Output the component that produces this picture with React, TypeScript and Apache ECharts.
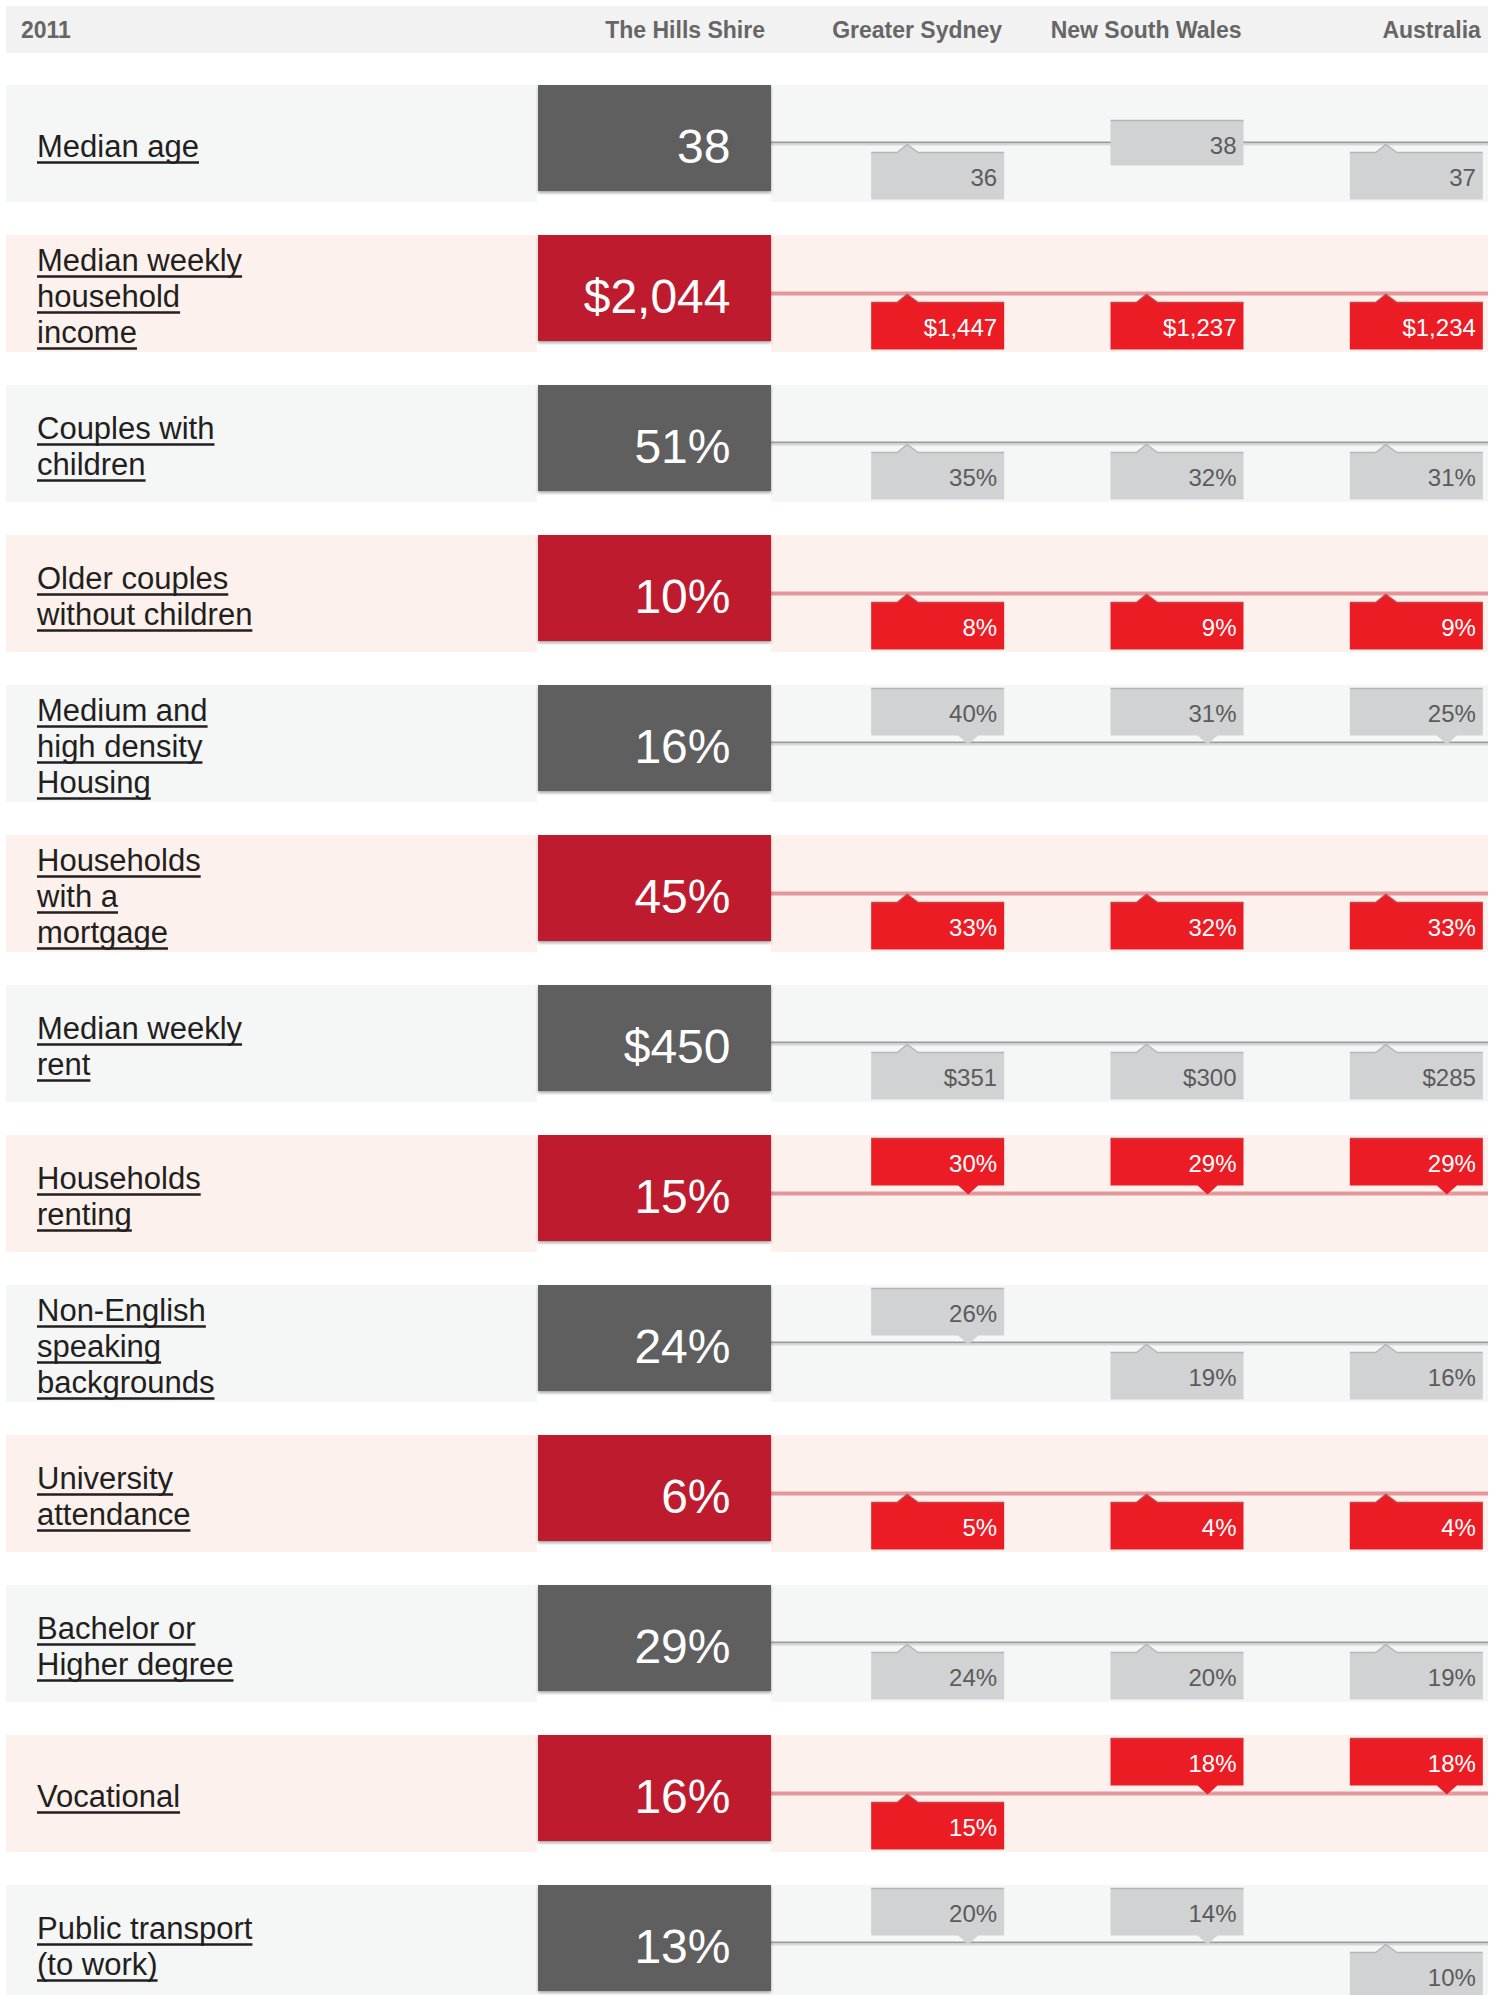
import { useEffect, useRef } from 'react';
import * as echarts from 'echarts';

// ---------------- data ----------------
const YEAR = '2011';
const AREAS = ['The Hills Shire', 'Greater Sydney', 'New South Wales', 'Australia'];
const INDICATORS = [
  'Median age',
  'Median weekly household income',
  'Couples with children',
  'Older couples without children',
  'Medium and high density Housing',
  'Households with a mortgage',
  'Median weekly rent',
  'Households renting',
  'Non-English speaking backgrounds',
  'University attendance',
  'Bachelor or Higher degree',
  'Vocational',
  'Public transport (to work)',
];
const LABEL_LINES = [
  ['Median age'],
  ['Median weekly', 'household', 'income'],
  ['Couples with', 'children'],
  ['Older couples', 'without children'],
  ['Medium and', 'high density', 'Housing'],
  ['Households', 'with a', 'mortgage'],
  ['Median weekly', 'rent'],
  ['Households', 'renting'],
  ['Non-English', 'speaking', 'backgrounds'],
  ['University', 'attendance'],
  ['Bachelor or', 'Higher degree'],
  ['Vocational'],
  ['Public transport', '(to work)'],
];
const UNITS = ['', '$', '%', '%', '%', '%', '$', '%', '%', '%', '%', '%', '%'];
const HILLS_SHIRE = [38, 2044, 51, 10, 16, 45, 450, 15, 24, 6, 29, 16, 13];
const GREATER_SYDNEY = [36, 1447, 35, 8, 40, 33, 351, 30, 26, 5, 24, 15, 20];
const NEW_SOUTH_WALES = [38, 1237, 32, 9, 31, 32, 300, 29, 19, 4, 20, 18, 14];
const AUSTRALIA = [37, 1234, 31, 9, 25, 33, 285, 29, 16, 4, 19, 18, 10];

// ---------------- layout / style ----------------
const FONT = '"Liberation Sans", Arial, Helvetica, sans-serif';
const PAGE_L = 6;
const PAGE_R = 1488;
const ROW_H = 117;
const ROW_PITCH = 150;
const BOX_H = 106;
const CALLOUT_W = 133;
const CALLOUT_H = 47;
const LABEL_X = 37;
const LABEL_SIZE = 31;
const LABEL_LH = 36;

function fmt(v: number, unit: string): string {
  if (unit === '$') return '$' + v.toLocaleString('en-US');
  if (unit === '%') return v + '%';
  return String(v);
}

let measureCtx: CanvasRenderingContext2D | null = null;
function textWidth(t: string, size: number): number {
  if (!measureCtx) measureCtx = document.createElement('canvas').getContext('2d');
  if (!measureCtx) return t.length * size * 0.5;
  measureCtx.font = `${size}px ${FONT}`;
  return measureCtx.measureText(t).width;
}

export default function App() {
  const ref = useRef<HTMLDivElement>(null);

  useEffect(() => {
    document.body.style.margin = '0';
    const chart = echarts.init(ref.current!, null, { renderer: 'svg' });

    const rowData = HILLS_SHIRE.map((v, i) => [0, i, v]);
    const compData: number[][] = [];
    [GREATER_SYDNEY, NEW_SOUTH_WALES, AUSTRALIA].forEach((arr, c) => {
      arr.forEach((v, i) => compData.push([c, i, v, HILLS_SHIRE[i]]));
    });

    const renderRow = (params: any, api: any) => {
      const r = api.value(1) as number;
      const pt = api.coord([api.value(0), r]);
      const cx = pt[0];
      const cy = pt[1];
      const bw = api.size([1, 0])[0];
      const red = r % 2 === 1;
      const top = cy - ROW_H / 2;
      const boxL = cx - bw / 2;
      const boxR = cx + bw / 2;
      const bandFill = red ? '#fcf1ec' : '#f5f6f6';
      const children: any[] = [];
      children.push({
        type: 'rect',
        shape: { x: PAGE_L, y: top, width: boxL - 1 - PAGE_L, height: ROW_H },
        style: { fill: bandFill },
      });
      children.push({
        type: 'rect',
        shape: { x: boxR, y: top, width: PAGE_R - boxR, height: ROW_H },
        style: { fill: bandFill },
      });
      if (red) {
        children.push({
          type: 'line',
          shape: { x1: boxR, y1: cy, x2: PAGE_R, y2: cy },
          style: { stroke: '#e3979d', lineWidth: 4 },
        });
      } else {
        children.push({
          type: 'line',
          shape: { x1: boxR, y1: cy - 1, x2: PAGE_R, y2: cy - 1 },
          style: { stroke: '#9a9b9d', lineWidth: 2 },
        });
        children.push({
          type: 'line',
          shape: { x1: boxR, y1: cy + 1, x2: PAGE_R, y2: cy + 1 },
          style: { stroke: '#d6d7d8', lineWidth: 2 },
        });
      }
      children.push({
        type: 'rect',
        shape: { x: boxL, y: top, width: bw, height: BOX_H },
        style: {
          fill: red ? '#be1e2f' : '#5e5f61',
          shadowBlur: 3,
          shadowOffsetY: 2,
          shadowColor: 'rgba(0,0,0,0.35)',
        },
      });
      children.push({
        type: 'text',
        style: {
          text: fmt(api.value(2), UNITS[r]),
          x: cx + 76,
          y: cy + 2.5,
          align: 'right',
          verticalAlign: 'middle',
          fill: '#ffffff',
          fontSize: 48,
          fontFamily: FONT,
        },
      });
      const lines = LABEL_LINES[r];
      const n = lines.length;
      lines.forEach((ln, k) => {
        const ym = cy + 3 + (k - (n - 1) / 2) * LABEL_LH;
        const w = textWidth(ln, LABEL_SIZE);
        children.push({
          type: 'text',
          style: {
            text: ln,
            x: LABEL_X,
            y: ym,
            align: 'left',
            verticalAlign: 'middle',
            fill: '#231f20',
            fontSize: LABEL_SIZE,
            fontFamily: FONT,
          },
        });
        children.push({
          type: 'line',
          shape: { x1: LABEL_X, y1: ym + 16, x2: LABEL_X + w, y2: ym + 16 },
          style: { stroke: '#231f20', lineWidth: 2.6 },
        });
      });
      return { type: 'group', children };
    };

    const renderComp = (params: any, api: any) => {
      const c = api.value(0) as number;
      const r = api.value(1) as number;
      const v = api.value(2) as number;
      const h = api.value(3) as number;
      const pt = api.coord([c, r]);
      const cx = pt[0];
      const cy = pt[1];
      const red = r % 2 === 1;
      const L = cx - CALLOUT_W / 2;
      const R = cx + CALLOUT_W / 2;
      const fill = red ? '#ec1c24' : '#d1d2d4';
      const edge = red ? '#c6434a' : '#b6b7b9';
      let top: number;
      let points: number[][];
      let edgePts: number[][];
      if (v < h) {
        top = cy + 9;
        const bottom = top + CALLOUT_H;
        points = [[L, top], [L + 26, top], [L + 36, cy + 1], [L + 47, top], [R, top], [R, bottom], [L, bottom]];
        edgePts = [[L, top], [L + 26, top], [L + 36, cy + 1], [L + 47, top], [R, top]];
      } else if (v > h) {
        const bottom = cy - 8;
        top = bottom - CALLOUT_H;
        points = [[L, top], [R, top], [R, bottom], [L + 107, bottom], [L + 97, cy + 1], [L + 87, bottom], [L, bottom]];
        edgePts = [[L, top], [R, top]];
      } else {
        top = cy - 23;
        const bottom = top + CALLOUT_H - 2;
        points = [[L, top], [R, top], [R, bottom], [L, bottom]];
        edgePts = [[L, top], [R, top]];
      }
      return {
        type: 'group',
        children: [
          { type: 'polygon', shape: { points }, style: { fill } },
          { type: 'polyline', shape: { points: edgePts }, style: { stroke: edge, lineWidth: 1.5, fill: null } },
          {
            type: 'text',
            style: {
              text: fmt(v, UNITS[r]),
              x: R - 7,
              y: top + CALLOUT_H / 2 + 1.8,
              align: 'right',
              verticalAlign: 'middle',
              fill: red ? '#ffffff' : '#5b5b5b',
              fontSize: 24,
              fontFamily: FONT,
            },
          },
        ],
      };
    };

    const headerLabel = (w: number) => ({
      interval: 0,
      margin: 39,
      verticalAlign: 'middle',
      formatter: (val: string) => `{h|${val}}`,
      rich: {
        h: { width: w, align: 'right', fontSize: 23, fontWeight: 'bold', color: '#666666', fontFamily: FONT },
      },
    });

    const gridTop = 85 + ROW_H / 2 - ROW_PITCH / 2;
    const gridH = ROW_PITCH * INDICATORS.length;

    const option: any = {
      animation: false,
      backgroundColor: '#ffffff',
      graphic: [
        { type: 'rect', z: 0, shape: { x: PAGE_L, y: 6, width: PAGE_R - PAGE_L, height: 47 }, style: { fill: '#f2f2f2' } },
        {
          type: 'text',
          z: 1,
          x: 21,
          y: 30,
          style: { text: YEAR, fontSize: 23, fontWeight: 'bold', fill: '#666666', fontFamily: FONT, verticalAlign: 'middle' },
        },
      ],
      grid: [
        { left: 538, top: gridTop, width: 233, height: gridH, outerBoundsMode: 'none', containLabel: false },
        { left: 818, top: gridTop, width: 718, height: gridH, outerBoundsMode: 'none', containLabel: false },
      ],
      xAxis: [
        {
          type: 'category',
          gridIndex: 0,
          data: [AREAS[0]],
          position: 'top',
          z: 10,
          axisLine: { show: false },
          axisTick: { show: false },
          splitLine: { show: false },
          axisLabel: headerLabel(221),
        },
        {
          type: 'category',
          gridIndex: 1,
          data: AREAS.slice(1),
          position: 'top',
          z: 10,
          axisLine: { show: false },
          axisTick: { show: false },
          splitLine: { show: false },
          axisLabel: headerLabel(129),
        },
      ],
      yAxis: [
        { type: 'category', gridIndex: 0, data: INDICATORS, inverse: true, show: false },
        { type: 'category', gridIndex: 1, data: INDICATORS, inverse: true, show: false },
      ],
      series: [
        {
          type: 'custom',
          name: 'The Hills Shire',
          xAxisIndex: 0,
          yAxisIndex: 0,
          z: 2,
          silent: true,
          renderItem: renderRow,
          data: rowData,
        },
        {
          type: 'custom',
          name: 'Comparison',
          xAxisIndex: 1,
          yAxisIndex: 1,
          z: 3,
          silent: true,
          renderItem: renderComp,
          data: compData,
        },
      ],
    };

    chart.setOption(option);
    return () => chart.dispose();
  }, []);

  return (
    <div
      ref={ref}
      style={{ position: 'absolute', left: 0, top: 0, width: 1497, height: 1995, overflow: 'hidden' }}
    />
  );
}
